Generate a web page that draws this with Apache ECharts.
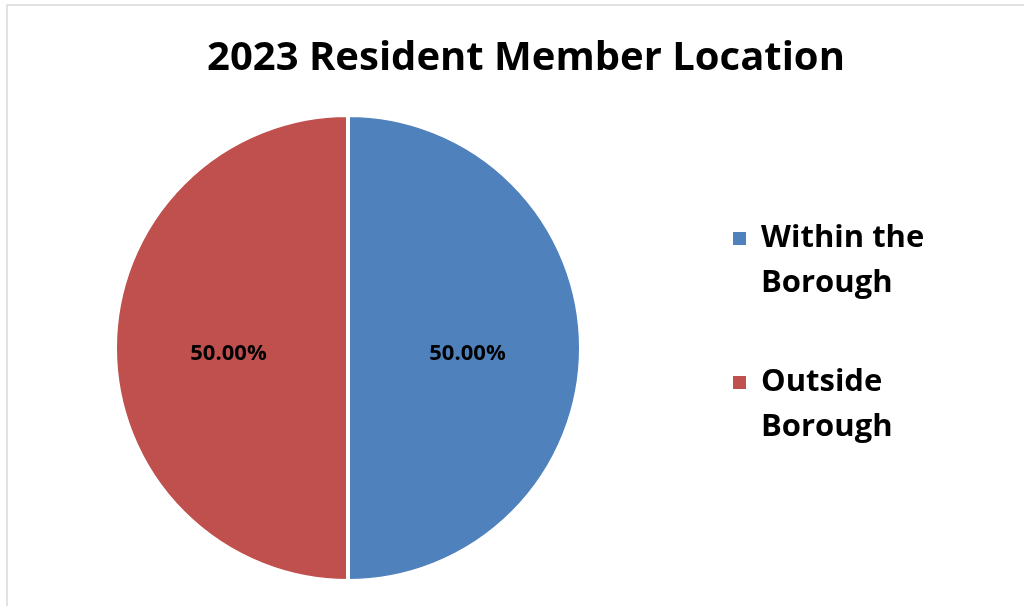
<!DOCTYPE html>
<html>
<head>
<meta charset="utf-8">
<script src="https://cdn.jsdelivr.net/npm/echarts@6/dist/echarts.min.js"></script>
<style>html,body{margin:0;padding:0;background:#fff}#c{width:1024px;height:606px}</style>
</head>
<body>
<div id="c"></div>
<script>
var titleText = '2023 Resident Member Location';
var categories = ['Within the\nBorough', 'Outside\nBorough'];
var values = [50, 50];
var colors = ['#4F81BD', '#C0504D'];

var chart = echarts.init(document.getElementById('c'), null, {renderer: 'canvas'});
var FONT = '"Open Sans", "Noto Sans", sans-serif';
chart.setOption({
  animation: false,
  backgroundColor: '#ffffff',
  graphic: [{
    type: 'rect', silent: true, z: -10,
    shape: {x: 7, y: 5, width: 1200, height: 800},
    style: {fill: 'none', stroke: '#d9d9d9', lineWidth: 1.5}
  }],
  title: {
    text: titleText,
    left: 521, top: 34, textAlign: 'center',
    textStyle: {fontFamily: FONT, fontWeight: 'bold', fontSize: 40, color: '#000'}
  },
  legend: {
    orient: 'vertical',
    left: 731, top: 171,
    padding: 0,
    itemWidth: 15, itemHeight: 15, itemGap: 9,
    icon: 'rect',
    formatter: function (name) { return ' \n' + name; },
    textStyle: {fontFamily: FONT, fontWeight: 'bold', fontSize: 31, lineHeight: 45, color: '#000', padding: [0, 0, 0, 9]},
    data: categories
  },
  series: [{
    type: 'pie',
    center: [348, 348],
    radius: [0, 233],
    startAngle: 90,
    clockwise: true,
    data: categories.map(function (c, i) {
      return {name: c, value: values[i], itemStyle: {color: colors[i]}};
    }),
    itemStyle: {borderColor: '#ffffff', borderWidth: 4},
    label: {
      show: true, position: 'inside',
      formatter: function (p) { return '{v|' + p.percent.toFixed(2) + '%}'; },
      rich: {
        v: {fontFamily: FONT, fontWeight: 'bold', fontSize: 22, color: '#000', padding: [11, 0, 0, 0]}
      }
    },
    labelLine: {show: false},
    emphasis: {disabled: true}
  }]
});
</script>
</body>
</html>
